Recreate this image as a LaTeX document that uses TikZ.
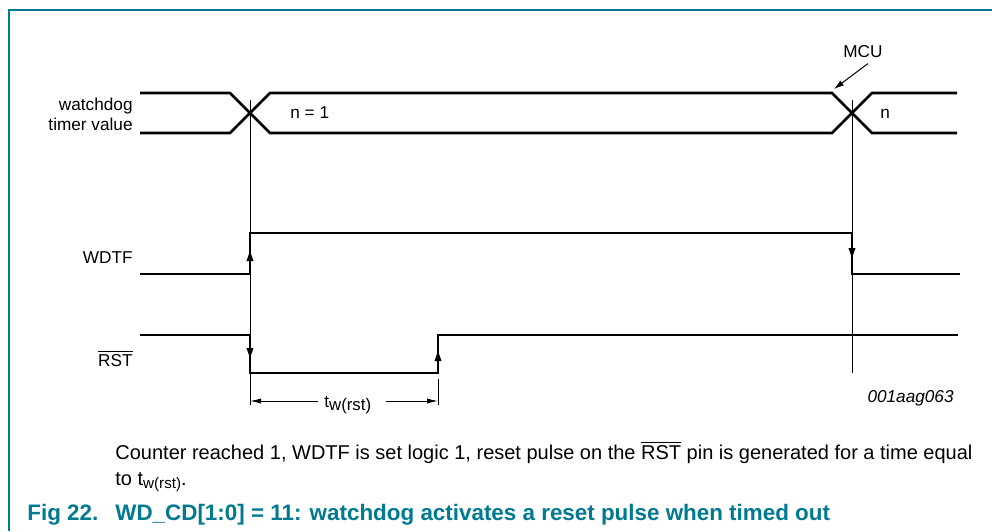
\documentclass[tikz,border=0pt]{standalone}
\usepackage{fontspec}
\setmainfont{Liberation Sans}
\usetikzlibrary{calc,arrows.meta}
\definecolor{figteal}{RGB}{0,122,145}
\newcommand{\twsub}[1]{t\raisebox{-0.35ex}{\fontsize{#1}{#1}\selectfont w(rst)}}

\begin{document}
\begin{tikzpicture}[x=0.5pt,y=-0.5pt,
    sig/.style={line width=1.4pt},
    fine/.style={line width=0.5pt},
    lbl/.style={font=\fontsize{8.6}{10}\selectfont, inner sep=0pt},
    txt/.style={font=\fontsize{10}{12}\selectfont, inner sep=0pt, anchor=base west}]
  \useasboundingbox (0,0) rectangle (992,531);
  \draw[figteal, line width=0.8pt] (992,10) -- (9,10) -- (9,531);

  % timer bus with the two crossings
  \draw[sig] (140,93) -- (230,93) -- (270,133) -- (832,133) -- (872,93) -- (957,93);
  \draw[sig] (140,133) -- (230,133) -- (270,93) -- (832,93) -- (872,133) -- (957,133);

  % reference lines
  \draw[fine] (250,100) -- (250,405);
  \draw[fine] (852,100) -- (852,373);
  \draw[fine] (438,379) -- (438,405);

  % WDTF and RST
  \draw[sig] (140,274) -- (250,274) -- (250,233) -- (852,233) -- (852,274) -- (960,274);
  \draw[sig] (140,335) -- (250,335) -- (250,373) -- (438,373) -- (438,335) -- (958,335);
  \foreach \x/\ya/\yb in {250/274/251, 852/233/258, 250/335/358, 438/373/351}
    \draw[fine, -{Triangle[length=5pt,width=3.4pt]}] (\x,\ya) -- (\x,\yb);

  % labels
  \node[lbl, anchor=base east] (wdog) at (133,110) {watchdog};
  \node[lbl, anchor=base east] (tval) at (133,130) {timer value};
  \node[lbl, anchor=base east] (wdtf) at (133,263) {WDTF};
  \node[lbl, anchor=base east] (rst) at (133,366) {$\overline{\mbox{RST}}$};
  \node[lbl, anchor=base west] (nfirst) at (290,118) {n = 1};
  \node[lbl, anchor=base west] (nnext) at (880,118) {n};
  \node[lbl, anchor=base west] (mcu) at (843,57) {MCU};
  \coordinate (mcutip) at (834,89);
  \draw[fine, -{Latex[length=5pt,width=3pt]}] ($(mcu.south)+(5,6)$) -- (mcutip);
  \node[lbl, anchor=base east, font=\fontsize{8.6}{10}\selectfont\itshape] (code) at (954,402) {001aag063};

  % pulse width
  \node[lbl, anchor=base west] (tw) at (324,407) {\twsub{8.4}};
  \coordinate (twl) at (318,401);
  \coordinate (twr) at (386,401);
  \draw[fine, -{Latex[length=5.5pt,width=2.6pt]}] (twl) -- (250,401);
  \draw[fine, -{Latex[length=5.5pt,width=2.6pt]}] (twr) -- (438,401);

  % caption
  \node[txt] (cap1) at (115,459) {Counter reached 1, WDTF is set logic 1, reset pulse on the $\overline{\mbox{RST}}$ pin is generated for a time equal};
  \node[txt] (cap2) at (115,485) {to \twsub{7.6}.};
  \node[txt, text=figteal, font=\fontsize{11.2}{13}\selectfont\bfseries] (fignum) at (27,520) {Fig 22.};
  \node[txt, text=figteal, font=\fontsize{11.2}{13}\selectfont\bfseries] (figtitle) at (115,520) {WD\_CD[1:0] = 11: watchdog activates a reset pulse when timed out};
\end{tikzpicture}
\end{document}
